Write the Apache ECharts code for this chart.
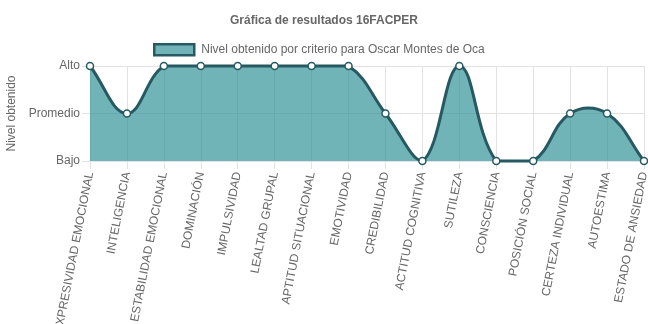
<!DOCTYPE html>
<html>
<head>
<meta charset="utf-8">
<script src="https://cdn.jsdelivr.net/npm/echarts@6/dist/echarts.min.js"></script>
<style>html,body{margin:0;padding:0;background:#fff}#c{width:648px;height:324px}</style>
</head>
<body>
<div id="c"></div>
<script>
var categories = ['EXPRESIVIDAD EMOCIONAL','INTELIGENCIA','ESTABILIDAD EMOCIONAL','DOMINACIÓN','IMPULSIVIDAD','LEALTAD GRUPAL','APTITUD SITUACIONAL','EMOTIVIDAD','CREDIBILIDAD','ACTITUD COGNITIVA','SUTILEZA','CONSCIENCIA','POSICIÓN SOCIAL','CERTEZA INDIVIDUAL','AUTOESTIMA','ESTADO DE ANSIEDAD'];
var levels = [2,1,2,2,2,2,2,2,1,0,2,0,0,1,1,0];
var levelLabels = ['Bajo','Promedio','Alto'];
var seriesName = 'Nivel obtenido por criterio para Oscar Montes de Oca';
var titleText = 'Gráfica de resultados 16FACPER';
var yName = 'Nivel obtenido';

var LINE = '#265961', FILL = 'rgba(51,148,152,0.7)', LEGFILL = '#70b4b7', GRIDC = '#e2e2e2', TXT = '#666';
var FONT = '"Liberation Sans", Arial, sans-serif';
var TENSION = 0.4;

function renderItem(params, api) {
  var cs = params.coordSys;
  var children = [];
  var i = params.dataIndex;
  var p = api.coord([i, levels[i]]);
  children.push({type:'circle', z2: 10, shape:{cx:p[0], cy:p[1], r:3.5},
    style:{fill:'#fff', stroke:LINE, lineWidth:1.5}});
  if (i === 0) {
    var pts = levels.map(function(v, k){ return api.coord([k, v]); });
    var n = pts.length;
    var cps = [];
    for (var k = 0; k < n; k++) {
      var prev = pts[k-1] || pts[k], cur = pts[k], next = pts[k+1] || pts[k];
      var d01 = Math.hypot(cur[0]-prev[0], cur[1]-prev[1]);
      var d12 = Math.hypot(next[0]-cur[0], next[1]-cur[1]);
      var s01 = d01/(d01+d12), s12 = d12/(d01+d12);
      if (isNaN(s01)) s01 = 0; if (isNaN(s12)) s12 = 0;
      var fa = TENSION*s01, fb = TENSION*s12;
      var pc = [cur[0]-fa*(next[0]-prev[0]), cur[1]-fa*(next[1]-prev[1])];
      var nc = [cur[0]+fb*(next[0]-prev[0]), cur[1]+fb*(next[1]-prev[1])];
      [pc, nc].forEach(function(c){
        c[0] = Math.max(cs.x, Math.min(cs.x+cs.width, c[0]));
        c[1] = Math.max(cs.y, Math.min(cs.y+cs.height, c[1]));
      });
      cps.push({prev:pc, next:nc});
    }
    var d = 'M' + pts[0][0] + ' ' + pts[0][1];
    for (var k = 0; k < n-1; k++) {
      d += ' C' + cps[k].next[0] + ' ' + cps[k].next[1] + ' ' + cps[k+1].prev[0] + ' ' + cps[k+1].prev[1] + ' ' + pts[k+1][0] + ' ' + pts[k+1][1];
    }
    var base = cs.y + cs.height;
    var area = d + ' L' + pts[n-1][0] + ' ' + base + ' L' + pts[0][0] + ' ' + base + ' Z';
    children.push({type:'path', z2: 1, shape:{pathData: area}, style:{fill:FILL, stroke:null}});
    children.push({type:'path', z2: 5, shape:{pathData: d}, style:{fill:null, stroke:LINE, lineWidth:3}});
  }
  return {type:'group', children:children};
}

var chart = echarts.init(document.getElementById('c'), null, {renderer:'canvas'});
chart.setOption({
  animation:false,
  textStyle:{fontFamily:FONT},
  title:{text:titleText, left:'center', top:10, textStyle:{fontSize:12, fontWeight:'bold', color:TXT, fontFamily:FONT}},
  legend:{top:43, left:153, icon:'rect', itemWidth:40, itemHeight:11, itemGap:10,
    textStyle:{fontSize:12, color:TXT, fontFamily:FONT, padding:[0,0,0,2]},
    itemStyle:{color:LEGFILL, borderColor:LINE, borderWidth:2.5},
    padding:0,
    data:[seriesName]},
  grid:{left:90, right:4, top:66, bottom:163, containLabel:false, outerBoundsMode:'none'},
  xAxis:{type:'category', data:categories, boundaryGap:false,
    axisLine:{show:true, lineStyle:{color:GRIDC}},
    axisTick:{show:true, length:8, lineStyle:{color:GRIDC}},
    splitLine:{show:true, lineStyle:{color:GRIDC}},
    axisLabel:{rotate:79, fontSize:12, color:TXT, margin:11, interval:0, fontFamily:FONT, hideOverlap:false}},
  yAxis:{type:'value', min:0, max:2, interval:1,
    name:yName, nameLocation:'middle', nameRotate:90, nameGap:71,
    nameTextStyle:{fontSize:12, color:TXT, fontFamily:FONT},
    axisLine:{show:true, lineStyle:{color:GRIDC}},
    axisTick:{show:true, length:8, lineStyle:{color:GRIDC}},
    splitLine:{show:true, lineStyle:{color:GRIDC}},
    axisLabel:{fontSize:12, color:TXT, margin:10, fontFamily:FONT, formatter:function(v){return levelLabels[v];}}},
  series:[{type:'custom', name:seriesName, renderItem:renderItem, clip:false,
    itemStyle:{color:LEGFILL, borderColor:LINE},
    encode:{x:0, y:1},
    data:levels.map(function(v,i){return [i, v];})}]
});
</script>
</body>
</html>
